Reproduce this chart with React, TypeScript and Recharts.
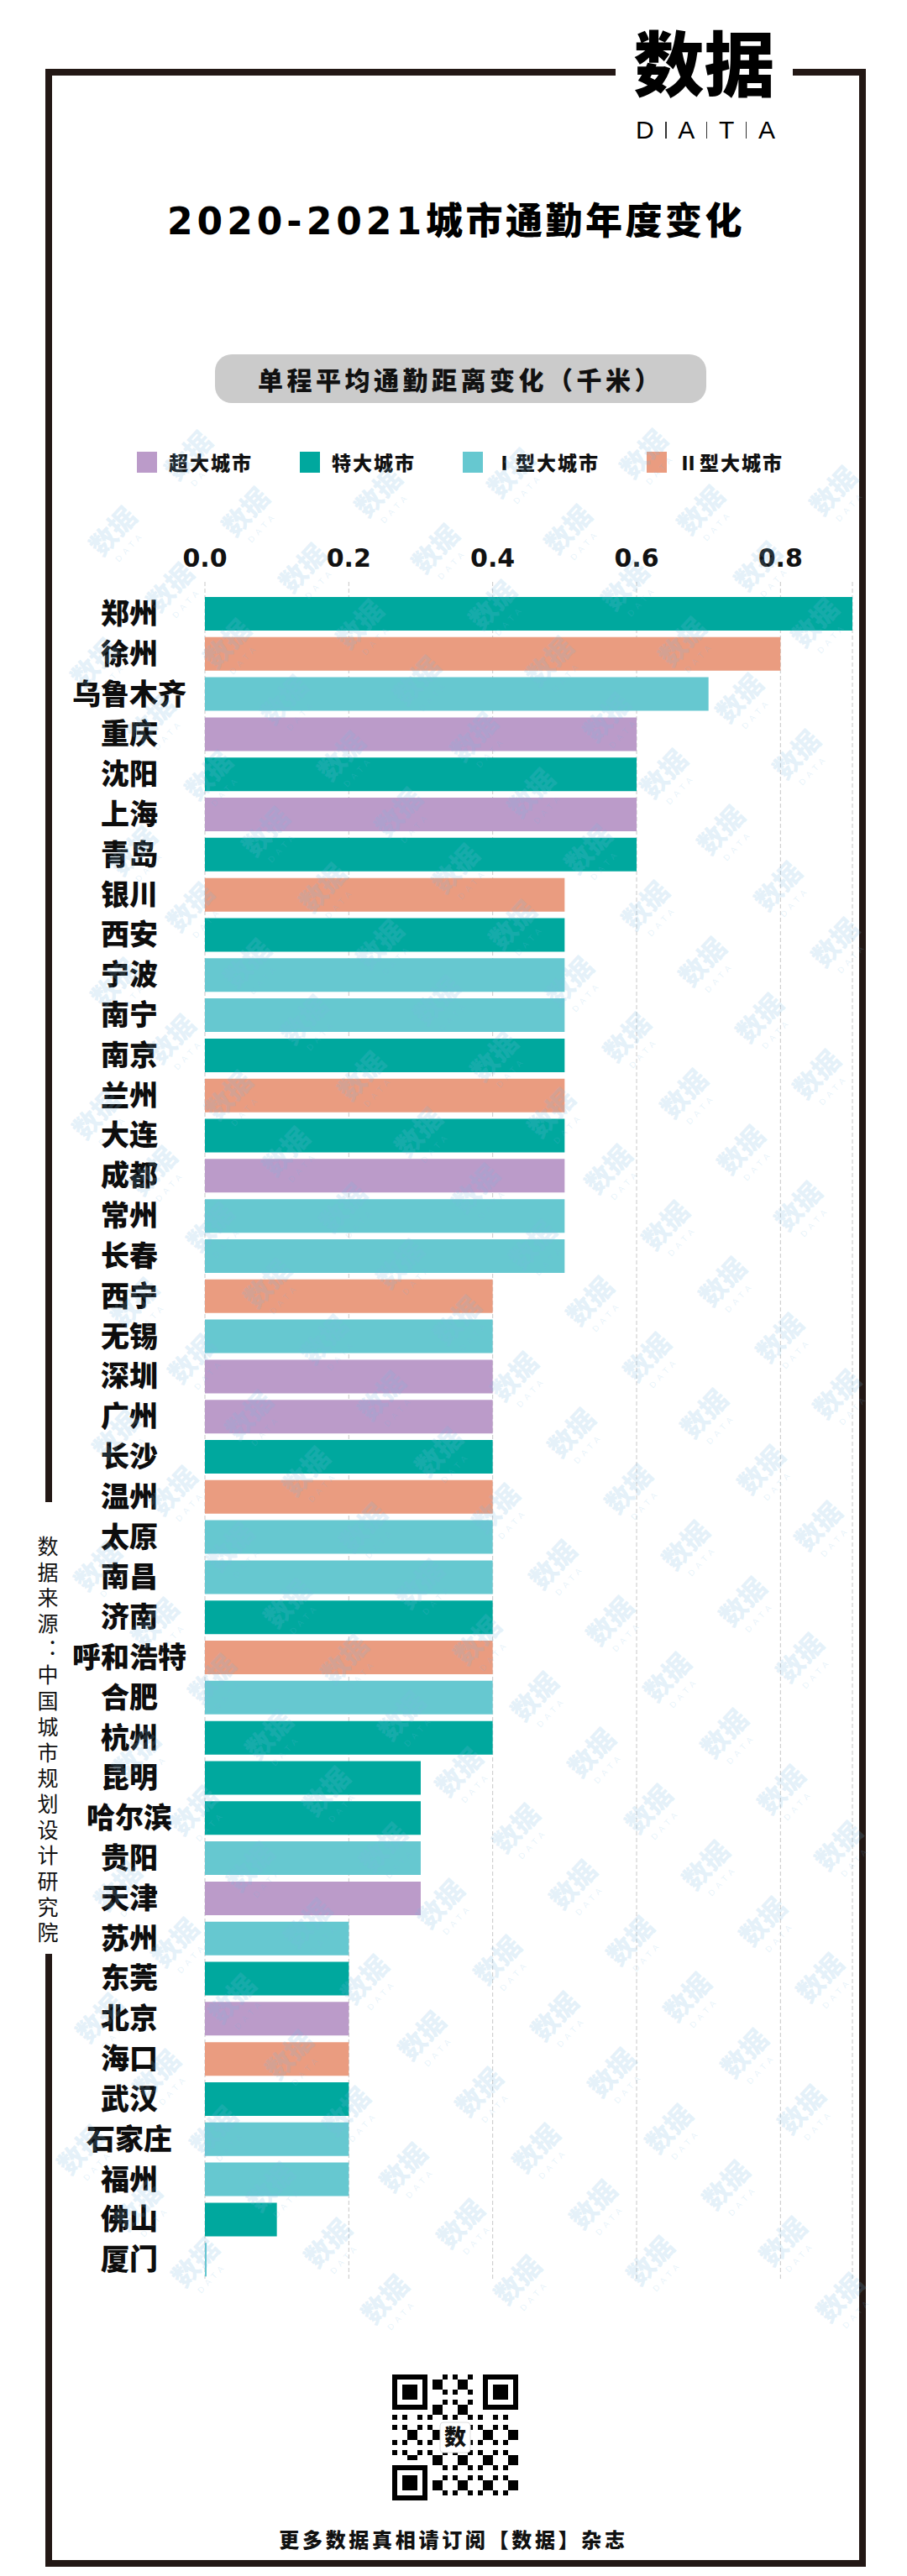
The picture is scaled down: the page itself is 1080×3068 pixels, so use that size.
import React from "react";
import { BarChart, Bar, XAxis, YAxis, CartesianGrid, Cell } from "recharts";

// 城市类型
const categories = ["超大城市", "特大城市", "Ⅰ型大城市", "Ⅱ型大城市"];
const categoryColors = ["#bb9bc9", "#00a89e", "#66c8d0", "#ea9c80"];

const cities = [
  "郑州", "徐州", "乌鲁木齐", "重庆", "沈阳", "上海", "青岛", "银川", "西安", "宁波",
  "南宁", "南京", "兰州", "大连", "成都", "常州", "长春", "西宁", "无锡", "深圳",
  "广州", "长沙", "温州", "太原", "南昌", "济南", "呼和浩特", "合肥", "杭州", "昆明",
  "哈尔滨", "贵阳", "天津", "苏州", "东莞", "北京", "海口", "武汉", "石家庄", "福州",
  "佛山", "厦门",
];

// 单程平均通勤距离变化（千米）
const distanceChange = [
  0.9, 0.8, 0.7, 0.6, 0.6, 0.6, 0.6, 0.5, 0.5, 0.5,
  0.5, 0.5, 0.5, 0.5, 0.5, 0.5, 0.5, 0.4, 0.4, 0.4,
  0.4, 0.4, 0.4, 0.4, 0.4, 0.4, 0.4, 0.4, 0.4, 0.3,
  0.3, 0.3, 0.3, 0.2, 0.2, 0.2, 0.2, 0.2, 0.2, 0.2,
  0.1, 0.0,
];

// index into categories
const cityType = [
  1, 3, 2, 0, 1, 0, 1, 3, 1, 2,
  2, 1, 3, 1, 0, 2, 2, 3, 2, 0,
  0, 1, 3, 2, 2, 1, 3, 2, 1, 1,
  1, 2, 0, 2, 1, 0, 3, 1, 2, 2,
  1, 2,
];

const xTicks = [0, 0.2, 0.4, 0.6, 0.8];

const data = cities.map((name, i) => ({ name, value: distanceChange[i], type: cityType[i] }));

const FRAME = "#231815";
const CJK = '"Noto Sans CJK SC", "Noto Sans", sans-serif';

// 水印
function Watermarks() {
  const marks: { x: number; y: number }[] = [];
  for (let n = -40; n <= 40; n++) {
    for (let m = -40; m <= 40; m++) {
      const x = 703 + n * 68 + m * 90;
      const y = 1550 + n * 67 - m * 90;
      if (x > 95 && x < 1005 && y > 520 && y < 2740) marks.push({ x, y });
    }
  }
  return (
    <svg
      width={1080}
      height={3068}
      style={{ position: "absolute", left: 0, top: 0, pointerEvents: "none", zIndex: 3 }}
    >
      {marks.map((p, i) => (
        <g key={i} transform={`translate(${p.x},${p.y}) rotate(-47)`} fill="rgba(120,185,225,0.2)">
          <text textAnchor="middle" dy={11} fontSize={32} fontWeight={900} fontFamily={CJK}>
            数据
          </text>
          <text textAnchor="middle" dy={30} fontSize={10} letterSpacing={5} fontFamily="Liberation Sans">
            DATA
          </text>
        </g>
      ))}
    </svg>
  );
}

function QrCode() {
  const n = 25;
  const cell = 6;
  const cells: React.ReactElement[] = [];
  const finder = (r: number, c: number) => {
    const inBox = (r0: number, c0: number) => r >= r0 && r < r0 + 7 && c >= c0 && c < c0 + 7;
    const ring = (r0: number, c0: number) => {
      const dr = r - r0, dc = c - c0;
      const edge = dr === 0 || dr === 6 || dc === 0 || dc === 6;
      const core = dr >= 2 && dr <= 4 && dc >= 2 && dc <= 4;
      return edge || core;
    };
    if (inBox(0, 0)) return ring(0, 0) ? 1 : 0;
    if (inBox(0, n - 7)) return ring(0, n - 7) ? 1 : 0;
    if (inBox(n - 7, 0)) return ring(n - 7, 0) ? 1 : 0;
    if (r === 7 && (c < 8 || c > n - 9)) return 0;
    if (c === 7 && (r < 8 || r > n - 9)) return 0;
    if (r === n - 8 && c < 8) return 0;
    if (c === n - 8 && r < 8) return 0;
    return -1;
  };
  for (let r = 0; r < n; r++) {
    for (let c = 0; c < n; c++) {
      let on = finder(r, c);
      if (on === -1) on = (r * 7 + c * 13 + r * c * 3) % 5 < 2 ? 1 : 0;
      if (on) cells.push(<rect key={`${r}-${c}`} x={c * cell} y={r * cell} width={cell} height={cell} fill="#000" />);
    }
  }
  return (
    <svg width={n * cell} height={n * cell} style={{ position: "absolute", left: 467, top: 2828 }}>
      {cells}
      <rect x={57} y={57} width={36} height={36} rx={4} fill="#fff" stroke="#ddd" />
      <text x={75} y={84} textAnchor="middle" fontSize={26} fontWeight={900} fontFamily={CJK} fill="#111">
        数
      </text>
    </svg>
  );
}

export default function App() {
  return (
    <div
      style={{
        position: "absolute",
        left: 0,
        top: 0,
        width: 1080,
        height: 3068,
        background: "#fff",
        overflow: "hidden",
        fontFamily: CJK,
      }}
    >
      {/* frame */}
      <div
        style={{
          position: "absolute",
          left: 54,
          top: 82,
          width: 977,
          height: 2975,
          border: `8px solid ${FRAME}`,
          boxSizing: "border-box",
        }}
      />

      {/* logo */}
      <div style={{ position: "absolute", left: 733, top: 20, width: 211, height: 160, background: "#fff" }}>
        <div
          style={{
            position: "absolute",
            left: 0,
            width: 211,
            top: 2,
            textAlign: "center",
            fontSize: 84,
            lineHeight: "100px",
            fontWeight: 900,
            color: "#000",
          }}
        >
          数据
        </div>
        <div
          style={{
            position: "absolute",
            left: 24,
            top: 123,
            width: 166,
            height: 24,
            display: "flex",
            justifyContent: "space-between",
            alignItems: "center",
            fontFamily: '"Liberation Sans Narrow", "Liberation Sans", sans-serif',
            fontSize: 30,
            lineHeight: "24px",
            color: "#000",
          }}
        >
          {["D", "|", "A", "|", "T", "|", "A"].map((ch, i) =>
            ch === "|" ? (
              <div key={i} style={{ width: 1.5, height: 20, background: "#333" }} />
            ) : (
              <span key={i}>{ch}</span>
            )
          )}
        </div>
      </div>

      {/* title */}
      <div
        style={{
          position: "absolute",
          left: 0,
          width: 1086,
          top: 234,
          textAlign: "center",
          fontSize: 44,
          lineHeight: "52px",
          fontWeight: 900,
          color: "#000",
          whiteSpace: "nowrap",
        }}
      >
        <span style={{ fontFamily: '"DejaVu Sans", sans-serif', fontWeight: 700, letterSpacing: 5 }}>2020-2021</span>
        <span style={{ letterSpacing: 3.5 }}>城市通勤年度变化</span>
      </div>

      {/* subtitle box */}
      <div
        style={{
          position: "absolute",
          left: 256,
          top: 422,
          width: 585,
          height: 58,
          borderRadius: 20,
          background: "#cbcbcb",
          display: "flex",
          alignItems: "center",
          justifyContent: "center",
          fontSize: 30,
          fontWeight: 900,
          letterSpacing: 4.5,
          color: "#111",
        }}
      >
        单程平均通勤距离变化（千米）
      </div>

      {/* legend */}
      <div style={{ position: "absolute", left: 163, top: 538, display: "flex", gap: 56, alignItems: "center" }}>
        {categories.map((c, i) => (
          <div key={c} style={{ display: "flex", alignItems: "center" }}>
            <div style={{ width: 24, height: 25, background: categoryColors[i], marginRight: 14 }} />
            <span style={{ fontSize: 23, fontWeight: 900, letterSpacing: 2, lineHeight: "25px", color: "#111" }}>{c}</span>
          </div>
        ))}
      </div>

      {/* chart */}
      <div style={{ position: "absolute", left: 0, top: 600, width: 1080, height: 2125 }}>
        <BarChart
          width={1080}
          height={2125}
          data={data}
          layout="vertical"
          margin={{ top: 53, right: 65, left: 44, bottom: 10 }}
        >
          <CartesianGrid horizontal={false} stroke="#c8c8c8" strokeDasharray="5 3" />
          <XAxis
            type="number"
            orientation="top"
            domain={[0, 0.9]}
            ticks={xTicks}
            height={40}
            axisLine={false}
            tickLine={false}
            tickSize={0}
            tickMargin={18}
            tickFormatter={(v: number) => v.toFixed(1)}
            tick={{ fontSize: 30, fontWeight: 700, fill: "#111", fontFamily: '"DejaVu Sans", sans-serif' }}
          />
          <YAxis
            type="category"
            dataKey="name"
            width={200}
            interval={0}
            axisLine={false}
            tickLine={false}
            tickSize={0}
            tickMargin={90}
            padding={{ top: 14, bottom: 0 }}
            tick={{ textAnchor: "middle", fontSize: 34, fontWeight: 900, fill: "#0d0d0d", fontFamily: CJK }}
          />
          <Bar dataKey="value" barSize={40} minPointSize={2} isAnimationActive={false}>
            {data.map((d) => (
              <Cell key={d.name} fill={categoryColors[d.type]} />
            ))}
          </Bar>
        </BarChart>
      </div>

      {/* source, vertical */}
      <div style={{ position: "absolute", left: 48, top: 1789, width: 20, height: 538, background: "#fff" }} />
      <div
        style={{
          position: "absolute",
          left: 44,
          top: 1829,
          writingMode: "vertical-rl",
          fontSize: 25,
          lineHeight: "25px",
          letterSpacing: 5.7,
          color: "#111",
          zIndex: 4,
        }}
      >
        数据来源：中国城市规划设计研究院
      </div>

      <QrCode />

      {/* footer */}
      <div
        style={{
          position: "absolute",
          left: 0,
          width: 1080,
          top: 3011,
          textAlign: "center",
          fontSize: 24,
          lineHeight: "26px",
          fontWeight: 900,
          letterSpacing: 3.7,
          color: "#111",
        }}
      >
        更多数据真相请订阅【数据】杂志
      </div>

      <Watermarks />
    </div>
  );
}
